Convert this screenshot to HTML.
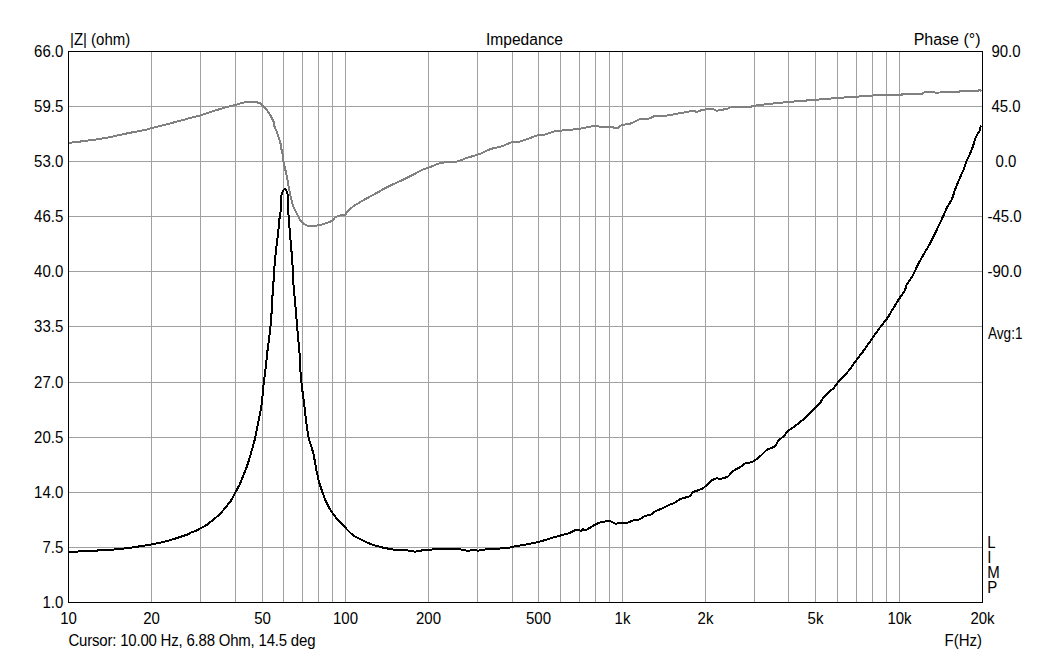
<!DOCTYPE html><html><head><meta charset="utf-8"><style>html,body{margin:0;padding:0;width:1050px;height:653px;overflow:hidden;background:#fff;font-family:"Liberation Sans",sans-serif}</style></head><body><svg width="1050" height="653" viewBox="0 0 1050 653" style="position:absolute;left:0;top:0"><rect width="1050" height="653" fill="#fff"/><path d="M151.5 51V602M200.5 51V602M235.5 51V602M262.5 51V602M283.5 51V602M302.5 51V602M318.5 51V602M332.5 51V602M345.5 51V602M428.5 51V602M477.5 51V602M512.5 51V602M538.5 51V602M560.5 51V602M579.5 51V602M595.5 51V602M609.5 51V602M622.5 51V602M705.5 51V602M754.5 51V602M788.5 51V602M815.5 51V602M837.5 51V602M856.5 51V602M872.5 51V602M886.5 51V602M899.5 51V602M68 106.5H982M68 161.5H982M68 216.5H982M68 271.5H982M68 326.5H982M68 382.5H982M68 437.5H982M68 492.5H982M68 547.5H982" stroke="#a0a0a0" stroke-width="1" fill="none" shape-rendering="crispEdges"/><path d="M68.50 142.90 C71.20 142.58 79.40 141.68 84.70 141.00 C90.00 140.32 95.48 139.57 100.30 138.80 C105.12 138.03 110.43 137.03 113.60 136.40 C116.77 135.77 115.80 135.75 119.30 135.00 C122.80 134.25 130.22 132.75 134.60 131.90 C138.98 131.05 142.82 130.52 145.60 129.90 C148.38 129.28 147.07 129.32 151.30 128.20 C155.53 127.08 164.63 124.87 171.00 123.20 C177.37 121.53 184.58 119.50 189.50 118.20 C194.42 116.90 196.37 116.63 200.50 115.40 C204.63 114.17 209.93 112.18 214.30 110.80 C218.67 109.42 223.25 108.05 226.70 107.10 C230.15 106.15 231.92 105.92 235.00 105.10 C238.08 104.28 242.05 102.68 245.20 102.20 C248.35 101.72 251.55 102.08 253.90 102.20 C256.25 102.32 257.87 102.40 259.30 102.90 C260.73 103.40 261.43 104.28 262.50 105.20 C263.57 106.12 264.63 107.07 265.70 108.40 C266.77 109.73 267.92 111.68 268.90 113.20 C269.88 114.72 270.78 115.98 271.60 117.50 C272.42 119.02 273.35 120.87 273.80 122.30 C274.25 123.73 273.77 124.40 274.30 126.10 C274.83 127.80 276.02 129.82 277.00 132.50 C277.98 135.18 279.48 139.52 280.20 142.20 C280.92 144.88 280.88 146.47 281.30 148.60 C281.72 150.73 282.32 152.68 282.70 155.00 C283.08 157.32 283.37 160.87 283.60 162.50 C283.83 164.13 283.62 162.78 284.10 164.80 C284.58 166.82 285.78 171.13 286.50 174.60 C287.22 178.07 287.73 182.03 288.40 185.60 C289.07 189.17 289.75 192.77 290.50 196.00 C291.25 199.23 292.18 202.70 292.90 205.00 C293.62 207.30 293.92 207.93 294.80 209.80 C295.68 211.67 297.33 214.55 298.20 216.20 C299.07 217.85 298.68 218.20 300.00 219.70 C301.32 221.20 304.10 224.18 306.10 225.20 C308.10 226.22 309.97 225.77 312.00 225.80 C314.03 225.83 316.12 225.78 318.30 225.40 C320.48 225.02 322.82 224.25 325.10 223.50 C327.38 222.75 330.35 221.88 332.00 220.90 C333.65 219.92 333.48 218.57 335.00 217.60 C336.52 216.63 339.43 215.58 341.10 215.10 C342.77 214.62 343.98 215.23 345.00 214.70 C346.02 214.17 345.93 213.20 347.20 211.90 C348.47 210.60 350.57 208.45 352.60 206.90 C354.63 205.35 357.00 204.05 359.40 202.60 C361.80 201.15 363.70 200.03 367.00 198.20 C370.30 196.37 375.92 193.42 379.20 191.60 C382.48 189.78 382.12 189.57 386.70 187.30 C391.28 185.03 400.70 180.93 406.70 178.00 C412.70 175.07 419.03 171.43 422.70 169.70 C426.37 167.97 425.60 168.73 428.70 167.60 C431.80 166.47 436.75 163.88 441.30 162.90 C445.85 161.92 451.77 162.52 456.00 161.70 C460.23 160.88 462.82 159.25 466.70 158.00 C470.58 156.75 476.58 155.13 479.30 154.20 C482.02 153.27 481.05 153.28 483.00 152.40 C484.95 151.52 487.88 149.92 491.00 148.90 C494.12 147.88 498.15 147.45 501.70 146.30 C505.25 145.15 509.42 142.77 512.30 142.00 C515.18 141.23 516.33 142.25 519.00 141.70 C521.67 141.15 525.08 139.80 528.30 138.70 C531.52 137.60 535.63 135.77 538.30 135.10 C540.97 134.43 541.52 135.33 544.30 134.70 C547.08 134.07 552.33 131.97 555.00 131.30 C557.67 130.63 557.63 130.97 560.30 130.70 C562.97 130.43 567.77 130.03 571.00 129.70 C574.23 129.37 576.82 129.13 579.70 128.70 C582.58 128.27 585.63 127.60 588.30 127.10 C590.97 126.60 593.70 125.75 595.70 125.70 C597.70 125.65 598.20 126.60 600.30 126.80 C602.40 127.00 605.97 126.77 608.30 126.90 C610.63 127.03 612.68 127.43 614.30 127.60 C615.92 127.77 616.72 128.33 618.00 127.90 C619.28 127.47 620.00 125.70 622.00 125.00 C624.00 124.30 626.88 124.70 630.00 123.70 C633.12 122.70 637.58 119.85 640.70 119.00 C643.82 118.15 646.27 119.12 648.70 118.60 C651.13 118.08 652.42 116.38 655.30 115.90 C658.18 115.42 662.43 116.07 666.00 115.70 C669.57 115.33 673.15 114.33 676.70 113.70 C680.25 113.07 684.42 112.42 687.30 111.90 C690.18 111.38 692.43 110.60 694.00 110.60 C695.57 110.60 695.15 112.05 696.70 111.90 C698.25 111.75 700.63 110.18 703.30 109.70 C705.97 109.22 710.47 108.85 712.70 109.00 C714.93 109.15 714.27 110.65 716.70 110.60 C719.13 110.55 724.87 109.23 727.30 108.70 C729.73 108.17 727.63 107.62 731.30 107.40 C734.97 107.18 745.68 107.65 749.30 107.40 C752.92 107.15 749.27 106.52 753.00 105.90 C756.73 105.28 765.70 104.37 771.70 103.70 C777.70 103.03 782.33 102.50 789.00 101.90 C795.67 101.30 803.48 100.77 811.70 100.10 C819.92 99.43 829.42 98.57 838.30 97.90 C847.18 97.23 857.33 96.62 865.00 96.10 C872.67 95.58 878.30 95.00 884.30 94.80 C890.30 94.60 897.88 95.05 901.00 94.90 C904.12 94.75 899.52 94.12 903.00 93.90 C906.48 93.68 918.40 93.83 921.90 93.60 C925.40 93.37 921.03 92.68 924.00 92.50 C926.97 92.32 936.73 92.63 939.70 92.50 C942.67 92.37 938.65 91.83 941.80 91.70 C944.95 91.57 955.45 91.87 958.60 91.70 C961.75 91.53 957.57 90.87 960.70 90.70 C963.83 90.53 974.35 90.87 977.40 90.70 C980.45 90.53 978.30 89.60 979.00 89.70 C979.70 89.80 981.17 91.03 981.60 91.30" stroke="#808080" stroke-width="2" fill="none" stroke-linejoin="round" shape-rendering="crispEdges"/><path d="M68.50 551.70 C71.20 551.63 79.57 551.52 84.70 551.30 C89.83 551.08 93.53 550.77 99.30 550.40 C105.07 550.03 112.63 549.77 119.30 549.10 C125.97 548.43 133.97 547.18 139.30 546.40 C144.63 545.62 146.85 545.25 151.30 544.40 C155.75 543.55 160.23 542.85 166.00 541.30 C171.77 539.75 181.82 536.52 185.90 535.10 C189.98 533.68 188.97 533.45 190.50 532.80 C192.03 532.15 193.42 531.97 195.10 531.20 C196.78 530.43 198.60 529.30 200.60 528.20 C202.60 527.10 204.95 526.05 207.10 524.60 C209.25 523.15 211.37 521.27 213.50 519.50 C215.63 517.73 217.92 515.98 219.90 514.00 C221.88 512.02 223.57 509.82 225.40 507.60 C227.23 505.38 229.28 503.15 230.90 500.70 C232.52 498.25 233.72 495.43 235.10 492.90 C236.48 490.37 238.18 487.50 239.20 485.50 C240.22 483.50 239.93 484.03 241.20 480.90 C242.47 477.77 245.20 471.22 246.80 466.70 C248.40 462.18 249.48 458.28 250.80 453.80 C252.12 449.32 253.55 444.62 254.70 439.80 C255.85 434.98 256.70 429.87 257.70 424.90 C258.70 419.93 259.97 413.98 260.70 410.00 C261.43 406.02 261.65 405.03 262.10 401.00 C262.55 396.97 262.85 390.88 263.40 385.80 C263.95 380.72 264.75 376.10 265.40 370.50 C266.05 364.90 266.62 358.07 267.30 352.20 C267.98 346.33 268.87 340.67 269.50 335.30 C270.13 329.93 270.58 326.83 271.10 320.00 C271.62 313.17 272.17 301.13 272.60 294.30 C273.03 287.47 273.37 283.85 273.70 279.00 C274.03 274.15 274.27 269.53 274.60 265.20 C274.93 260.87 275.27 257.08 275.70 253.00 C276.13 248.92 276.83 243.67 277.20 240.70 C277.57 237.73 277.63 237.65 277.90 235.20 C278.17 232.75 278.50 229.07 278.80 226.00 C279.10 222.93 279.40 219.25 279.70 216.80 C280.00 214.35 280.40 214.37 280.60 211.30 C280.80 208.23 280.62 201.52 280.90 198.40 C281.18 195.28 281.63 194.17 282.30 192.60 C282.97 191.03 284.08 189.00 284.90 189.00 C285.72 189.00 286.68 191.03 287.20 192.60 C287.72 194.17 287.87 195.28 288.00 198.40 C288.13 201.52 287.88 208.23 288.00 211.30 C288.12 214.37 288.47 214.35 288.70 216.80 C288.93 219.25 289.18 222.93 289.40 226.00 C289.62 229.07 289.73 231.98 290.00 235.20 C290.27 238.42 290.58 240.30 291.00 245.30 C291.42 250.30 292.12 259.07 292.50 265.20 C292.88 271.33 292.97 277.00 293.30 282.10 C293.63 287.20 294.05 290.70 294.50 295.80 C294.95 300.90 295.43 306.12 296.00 312.70 C296.57 319.28 297.28 328.22 297.90 335.30 C298.52 342.38 299.25 348.82 299.70 355.20 C300.15 361.58 300.18 367.98 300.60 373.60 C301.02 379.22 301.63 384.05 302.20 388.90 C302.77 393.75 303.37 397.58 304.00 402.70 C304.63 407.82 305.25 413.92 306.00 419.60 C306.75 425.28 307.27 431.08 308.50 436.80 C309.73 442.52 312.05 448.18 313.40 453.90 C314.75 459.62 315.58 466.20 316.60 471.10 C317.62 476.00 318.00 478.40 319.50 483.30 C321.00 488.20 323.35 495.40 325.60 500.50 C327.85 505.60 329.93 509.62 333.00 513.90 C336.07 518.18 340.73 522.72 344.00 526.20 C347.27 529.68 349.33 532.35 352.60 534.80 C355.87 537.25 359.72 539.07 363.60 540.90 C367.48 542.73 371.00 544.37 375.90 545.80 C380.80 547.23 387.20 548.68 393.00 549.50 C398.80 550.32 407.08 550.35 410.70 550.70 C414.32 551.05 413.15 551.60 414.70 551.60 C416.25 551.60 417.57 551.02 420.00 550.70 C422.43 550.38 425.30 550.00 429.30 549.70 C433.30 549.40 439.33 549.03 444.00 548.90 C448.67 548.77 454.18 548.72 457.30 548.90 C460.42 549.08 460.92 549.70 462.70 550.00 C464.48 550.30 466.00 550.75 468.00 550.70 C470.00 550.65 473.03 549.70 474.70 549.70 C476.37 549.70 476.67 550.70 478.00 550.70 C479.33 550.70 480.15 550.00 482.70 549.70 C485.25 549.40 489.30 549.18 493.30 548.90 C497.30 548.62 503.37 548.37 506.70 548.00 C510.03 547.63 509.97 547.30 513.30 546.70 C516.63 546.10 523.08 545.07 526.70 544.40 C530.32 543.73 532.28 543.32 535.00 542.70 C537.72 542.08 540.12 541.53 543.00 540.70 C545.88 539.87 549.42 538.55 552.30 537.70 C555.18 536.85 557.40 536.40 560.30 535.60 C563.20 534.80 567.03 533.88 569.70 532.90 C572.37 531.92 574.42 530.07 576.30 529.70 C578.18 529.33 579.88 530.83 581.00 530.70 C582.12 530.57 582.22 529.02 583.00 528.90 C583.78 528.78 583.58 530.75 585.70 530.00 C587.82 529.25 593.03 525.73 595.70 524.40 C598.37 523.07 599.27 522.52 601.70 522.00 C604.13 521.48 608.08 521.03 610.30 521.30 C612.52 521.57 613.10 523.37 615.00 523.60 C616.90 523.83 619.70 522.85 621.70 522.70 C623.70 522.55 625.00 523.08 627.00 522.70 C629.00 522.32 631.70 520.92 633.70 520.40 C635.70 519.88 637.23 520.27 639.00 519.60 C640.77 518.93 642.18 517.28 644.30 516.40 C646.42 515.52 649.92 515.10 651.70 514.30 C653.48 513.50 653.12 512.65 655.00 511.60 C656.88 510.55 660.78 509.05 663.00 508.00 C665.22 506.95 666.42 506.15 668.30 505.30 C670.18 504.45 672.18 503.98 674.30 502.90 C676.42 501.82 678.38 499.93 681.00 498.80 C683.62 497.67 688.05 497.18 690.00 496.10 C691.95 495.02 690.75 493.50 692.70 492.30 C694.65 491.10 699.28 490.15 701.70 488.90 C704.12 487.65 705.60 486.18 707.20 484.80 C708.80 483.42 709.68 481.70 711.30 480.60 C712.92 479.50 715.52 478.47 716.90 478.20 C718.28 477.93 717.77 479.28 719.60 479.00 C721.43 478.72 725.72 477.78 727.90 476.50 C730.08 475.22 730.40 473.02 732.70 471.30 C735.00 469.58 739.52 467.58 741.70 466.20 C743.88 464.82 744.08 463.70 745.80 463.00 C747.52 462.30 749.48 463.23 752.00 462.00 C754.52 460.77 758.48 457.60 760.90 455.60 C763.32 453.60 764.98 451.17 766.50 450.00 C768.02 448.83 768.60 449.25 770.00 448.60 C771.40 447.95 773.47 447.43 774.90 446.10 C776.33 444.77 777.17 442.23 778.60 440.60 C780.03 438.97 781.87 437.93 783.50 436.30 C785.13 434.67 786.57 432.43 788.40 430.80 C790.23 429.17 792.47 428.03 794.50 426.50 C796.53 424.97 798.57 423.23 800.60 421.60 C802.63 419.97 804.87 418.43 806.70 416.70 C808.53 414.97 810.07 412.73 811.60 411.20 C813.13 409.67 814.47 408.92 815.90 407.50 C817.33 406.08 818.87 404.43 820.20 402.70 C821.53 400.97 822.47 398.85 823.90 397.10 C825.33 395.35 827.27 393.62 828.80 392.20 C830.33 390.78 831.78 389.92 833.10 388.60 C834.42 387.28 835.78 385.48 836.70 384.30 C837.62 383.12 837.87 382.40 838.60 381.50 C839.33 380.60 839.27 380.87 841.10 378.90 C842.93 376.93 847.30 372.52 849.60 369.70 C851.90 366.88 852.73 364.93 854.90 362.00 C857.07 359.07 859.78 355.93 862.60 352.10 C865.42 348.27 869.00 342.97 871.80 339.00 C874.60 335.03 876.85 331.73 879.40 328.30 C881.95 324.87 884.80 321.72 887.10 318.40 C889.40 315.08 891.15 311.73 893.20 308.40 C895.25 305.07 897.48 301.33 899.40 298.40 C901.32 295.47 903.47 293.12 904.70 290.80 C905.93 288.48 905.52 286.92 906.80 284.50 C908.08 282.08 910.55 279.58 912.40 276.30 C914.25 273.02 916.07 268.40 917.90 264.80 C919.73 261.20 921.57 257.92 923.40 254.70 C925.23 251.48 927.22 248.57 928.90 245.50 C930.58 242.43 932.12 239.07 933.50 236.30 C934.88 233.53 935.65 232.12 937.20 228.90 C938.75 225.68 941.10 220.68 942.80 217.00 C944.50 213.32 945.87 209.80 947.40 206.80 C948.93 203.80 950.78 201.67 952.00 199.00 C953.22 196.33 953.25 194.63 954.70 190.80 C956.15 186.97 959.15 179.67 960.70 176.00 C962.25 172.33 963.10 171.12 964.00 168.80 C964.90 166.48 965.40 163.92 966.10 162.10 C966.80 160.28 967.35 159.73 968.20 157.90 C969.05 156.07 970.35 153.20 971.20 151.10 C972.05 149.00 972.60 147.40 973.30 145.30 C974.00 143.20 974.70 140.40 975.40 138.50 C976.10 136.60 976.80 135.17 977.50 133.90 C978.20 132.63 979.10 132.10 979.60 130.90 C980.10 129.70 980.18 127.35 980.50 126.70 C980.82 126.05 981.33 126.95 981.50 127.00" stroke="#000" stroke-width="2" fill="none" stroke-linejoin="round" shape-rendering="crispEdges"/><rect x="68.5" y="51.5" width="914" height="551" fill="none" stroke="#000" stroke-width="1" shape-rendering="crispEdges"/><g font-family="Liberation Sans, sans-serif" font-size="15" fill="#000"><text x="70" y="45" text-anchor="start" transform="translate(0 45) scale(1 1.05) translate(0 -45)">|Z| (ohm)</text><text x="524.5" y="45" text-anchor="middle" font-size="16" textLength="77" lengthAdjust="spacingAndGlyphs">Impedance</text><text x="980.5" y="45" text-anchor="end" font-size="16">Phase (°)</text><text x="63.3" y="57" text-anchor="end" transform="translate(0 57) scale(1 1.05) translate(0 -57)">66.0</text><text x="63.3" y="112" text-anchor="end" transform="translate(0 112) scale(1 1.05) translate(0 -112)">59.5</text><text x="63.3" y="167" text-anchor="end" transform="translate(0 167) scale(1 1.05) translate(0 -167)">53.0</text><text x="63.3" y="222" text-anchor="end" transform="translate(0 222) scale(1 1.05) translate(0 -222)">46.5</text><text x="63.3" y="277" text-anchor="end" transform="translate(0 277) scale(1 1.05) translate(0 -277)">40.0</text><text x="63.3" y="332" text-anchor="end" transform="translate(0 332) scale(1 1.05) translate(0 -332)">33.5</text><text x="63.3" y="388" text-anchor="end" transform="translate(0 388) scale(1 1.05) translate(0 -388)">27.0</text><text x="63.3" y="443" text-anchor="end" transform="translate(0 443) scale(1 1.05) translate(0 -443)">20.5</text><text x="63.3" y="498" text-anchor="end" transform="translate(0 498) scale(1 1.05) translate(0 -498)">14.0</text><text x="63.3" y="553" text-anchor="end" transform="translate(0 553) scale(1 1.05) translate(0 -553)">7.5</text><text x="63.3" y="608" text-anchor="end" transform="translate(0 608) scale(1 1.05) translate(0 -608)">1.0</text><text x="1006" y="57" text-anchor="middle" transform="translate(0 57) scale(1 1.05) translate(0 -57)">90.0</text><text x="1006" y="112" text-anchor="middle" transform="translate(0 112) scale(1 1.05) translate(0 -112)">45.0</text><text x="1006" y="167" text-anchor="middle" transform="translate(0 167) scale(1 1.05) translate(0 -167)">0.0</text><text x="1004.5" y="222" text-anchor="middle" transform="translate(0 222) scale(1 1.05) translate(0 -222)">-45.0</text><text x="1004.5" y="277" text-anchor="middle" transform="translate(0 277) scale(1 1.05) translate(0 -277)">-90.0</text><text x="988" y="339.5" text-anchor="start" textLength="34.5" lengthAdjust="spacingAndGlyphs" transform="translate(0 339.5) scale(1 1.05) translate(0 -339.5)">Avg:1</text><text x="987.3" y="548" text-anchor="start" transform="translate(0 548) scale(1 1.05) translate(0 -548)">L</text><text x="987.3" y="563" text-anchor="start" transform="translate(0 563) scale(1 1.05) translate(0 -563)">I</text><text x="987.3" y="578" text-anchor="start" transform="translate(0 578) scale(1 1.05) translate(0 -578)">M</text><text x="987.3" y="593" text-anchor="start" transform="translate(0 593) scale(1 1.05) translate(0 -593)">P</text><text x="68.5" y="624" text-anchor="middle" transform="translate(0 624) scale(1 1.05) translate(0 -624)">10</text><text x="151.5" y="624" text-anchor="middle" transform="translate(0 624) scale(1 1.05) translate(0 -624)">20</text><text x="262.5" y="624" text-anchor="middle" transform="translate(0 624) scale(1 1.05) translate(0 -624)">50</text><text x="345.5" y="624" text-anchor="middle" transform="translate(0 624) scale(1 1.05) translate(0 -624)">100</text><text x="428.5" y="624" text-anchor="middle" transform="translate(0 624) scale(1 1.05) translate(0 -624)">200</text><text x="538.5" y="624" text-anchor="middle" transform="translate(0 624) scale(1 1.05) translate(0 -624)">500</text><text x="622.5" y="624" text-anchor="middle" transform="translate(0 624) scale(1 1.05) translate(0 -624)">1k</text><text x="705.5" y="624" text-anchor="middle" transform="translate(0 624) scale(1 1.05) translate(0 -624)">2k</text><text x="815.5" y="624" text-anchor="middle" transform="translate(0 624) scale(1 1.05) translate(0 -624)">5k</text><text x="899.5" y="624" text-anchor="middle" transform="translate(0 624) scale(1 1.05) translate(0 -624)">10k</text><text x="982.5" y="624" text-anchor="middle" transform="translate(0 624) scale(1 1.05) translate(0 -624)">20k</text><text x="68.5" y="646" text-anchor="start" letter-spacing="-0.2" transform="translate(0 646) scale(1 1.05) translate(0 -646)">Cursor: 10.00 Hz, 6.88 Ohm, 14.5 deg</text><text x="982" y="646" text-anchor="end" transform="translate(0 646) scale(1 1.05) translate(0 -646)">F(Hz)</text></g></svg></body></html>
